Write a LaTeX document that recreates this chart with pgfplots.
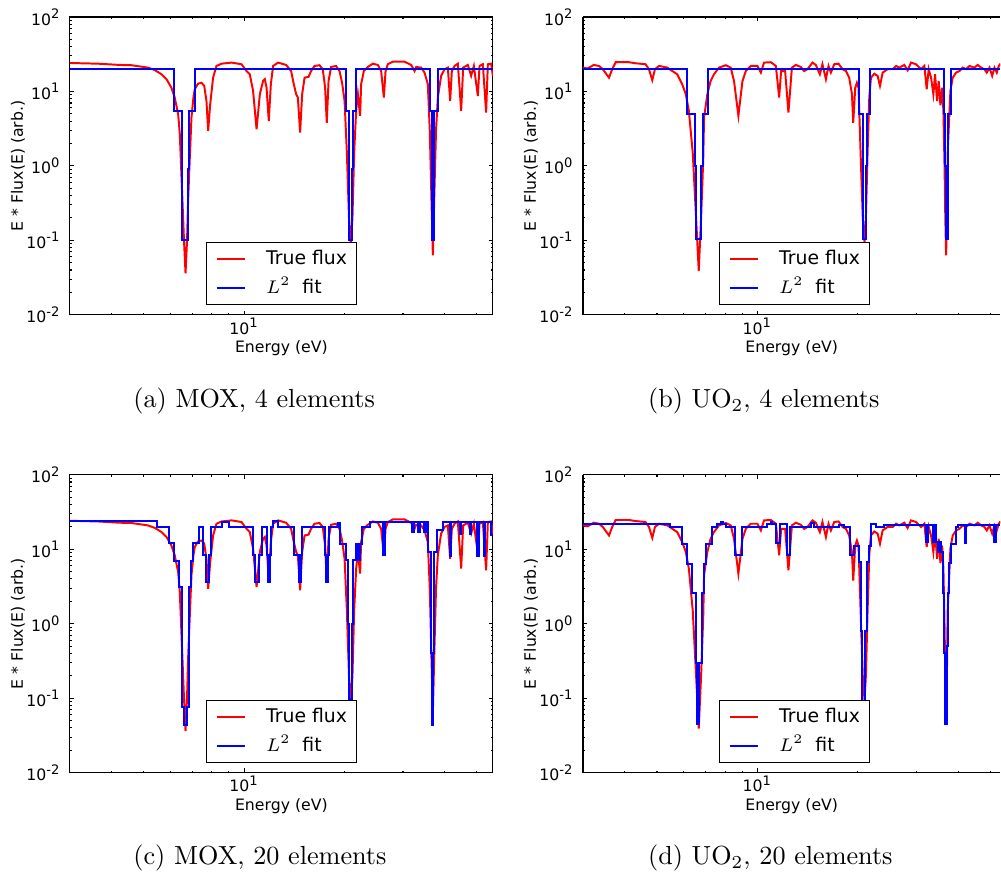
\documentclass[border=0pt]{standalone}
\usepackage{fontspec}
\usepackage{pgfplots}
\usepackage{pgfplotstable}
\pgfplotsset{compat=1.18}
\newfontfamily\dv{DejaVu Sans}

\pgfplotstableread[row sep=\\]{
E v\\
3.0 24.1\\ 3.64 23.6\\ 4.23 22.7\\ 4.59 22.5\\ 5.14 20.9\\ 5.39 19.4\\ 5.65 17.0\\ 5.85 14.6\\
6.05 11.2\\ 6.19 8.3\\ 6.34 4.9\\ 6.41 2.7\\ 6.53 0.34\\ 6.60 0.1\\ 6.67 0.036\\ 6.74 0.1\\
6.79 0.34\\ 6.88 1.5\\ 6.95 4.5\\ 7.05 8.5\\ 7.11 10.7\\ 7.27 12.7\\ 7.45 13.1\\ 7.59 11.9\\
7.71 7.45\\ 7.80 2.95\\ 7.91 6.7\\ 8.07 15.3\\ 8.26 22.0\\ 8.56 23.6\\ 9.17 24.4\\ 9.82 23.2\\
10.17 18.8\\ 10.40 17.0\\ 10.64 10.2\\ 10.90 3.1\\ 11.15 9.2\\ 11.40 13.8\\ 11.54 14.6\\ 11.68 11.2\\
11.86 4.0\\ 12.03 12.5\\ 12.22 22.0\\ 12.65 24.4\\ 13.37 22.7\\ 13.84 18.8\\ 14.10 12.5\\ 14.33 9.2\\
14.50 8.3\\ 14.73 2.8\\ 14.94 9.2\\ 15.19 15.3\\ 15.61 15.7\\ 15.89 18.8\\ 16.27 22.0\\ 16.84 22.5\\
17.23 19.9\\ 17.51 11.2\\ 17.71 3.8\\ 17.93 13.8\\ 18.25 21.3\\ 18.89 22.0\\ 19.34 18.8\\ 19.69 13.1\\
20.03 7.45\\ 20.35 1.5\\ 20.65 0.2\\ 20.92 0.09\\ 21.15 0.2\\ 21.40 1.5\\ 21.70 5.5\\ 21.96 9.2\\
22.30 4.7\\ 22.46 12.5\\ 22.88 18.8\\ 23.52 21.3\\ 24.35 23.6\\ 25.21 22.7\\ 25.79 18.8\\ 26.28 8.3\\
26.59 18.8\\ 27.01 23.2\\ 27.96 25.1\\ 30.32 25.1\\ 31.73 22.7\\ 32.49 18.8\\ 32.85 21.3\\ 34.01 20.9\\
34.82 17.9\\ 35.62 12.5\\ 36.10 3.0\\ 36.50 0.4\\ 36.88 0.063\\ 37.25 0.4\\ 37.70 3.0\\ 38.17 8.3\\
39.05 16.2\\ 39.98 19.9\\ 40.90 20.9\\ 41.56 7.45\\ 42.05 18.8\\ 42.84 22.0\\ 43.83 23.6\\ 44.85 5.5\\
45.47 20.9\\ 46.97 22.7\\ 48.05 16.2\\ 48.96 22.0\\ 50.33 8.7\\ 50.92 22.0\\ 52.10 23.2\\ 53.30 5.2\\
53.93 23.2\\ 55.18 23.6\\ 55.84 16.2\\
}\moxred

\pgfplotstableread[row sep=\\]{
E v\\
3.0 20.9\\ 3.1 20.3\\ 3.23 22.7\\ 3.35 22.0\\ 3.44 19.9\\ 3.59 15.3\\ 3.67 19.9\\ 3.76 24.7\\
4.12 24.7\\ 4.31 23.9\\ 4.62 23.2\\ 4.73 19.9\\ 4.84 14.2\\ 4.93 19.9\\ 5.07 22.0\\ 5.37 20.9\\
5.56 18.8\\ 5.75 17.0\\ 5.95 12.5\\ 6.10 9.2\\ 6.23 5.5\\ 6.40 1.5\\ 6.55 0.2\\ 6.67 0.039\\
6.78 0.2\\ 6.88 1.2\\ 6.92 4.5\\ 7.08 9.2\\ 7.24 13.8\\ 7.41 17.0\\ 7.67 20.9\\ 8.04 22.5\\
8.32 20.9\\ 8.51 13.8\\ 8.77 4.7\\ 9.02 13.8\\ 9.23 18.8\\ 9.55 22.0\\ 10.0 22.0\\ 10.24 17.9\\
10.47 24.4\\ 10.97 24.7\\ 11.36 22.0\\ 11.62 8.3\\ 11.78 18.8\\ 12.11 18.8\\ 12.39 5.2\\ 12.69 20.9\\
13.04 22.7\\ 13.50 21.3\\ 13.81 18.8\\ 14.13 19.9\\ 14.63 24.4\\ 14.97 22.7\\ 15.39 17.0\\ 15.67 23.2\\
16.05 14.6\\ 16.34 22.0\\ 16.61 17.9\\ 17.00 23.2\\ 17.51 23.6\\ 18.00 19.9\\ 18.43 18.8\\ 18.85 15.3\\
19.21 9.2\\ 19.38 3.8\\ 19.65 11.2\\ 19.88 13.1\\ 20.10 11.2\\ 20.45 1.0\\ 20.70 0.2\\ 20.95 0.094\\
21.15 0.2\\ 21.40 1.5\\ 21.65 8.3\\ 21.90 15.3\\ 22.41 17.3\\ 22.93 16.2\\ 23.31 11.9\\ 23.74 17.9\\
24.57 19.9\\ 25.44 19.9\\ 26.04 22.0\\ 26.65 20.9\\ 27.58 22.7\\ 28.21 19.2\\ 28.88 24.4\\ 29.90 23.2\\
30.96 19.9\\ 31.67 22.0\\ 32.18 10.7\\ 32.63 19.9\\ 33.17 15.3\\ 33.70 9.2\\ 34.10 17.0\\ 34.58 7.45\\
34.96 13.8\\ 35.38 6.5\\ 35.80 11.2\\ 36.12 5.5\\ 36.40 1.0\\ 36.60 0.2\\ 36.80 0.063\\ 37.00 0.2\\
37.20 1.5\\ 37.91 10.2\\ 38.52 15.3\\ 39.42 17.9\\ 40.34 18.8\\ 41.27 20.9\\ 42.25 19.9\\ 43.23 22.0\\
44.75 20.9\\ 45.78 22.7\\ 46.87 20.9\\ 47.95 19.9\\ 48.72 17.9\\ 49.64 20.9\\ 50.57 16.2\\ 51.38 20.9\\
52.21 17.9\\ 52.94 22.0\\ 53.56 23.6\\
}\uored

\pgfplotstableread[row sep=\\]{
E v\\
3 20.2\\ 6.16 20.2\\ 6.16 5.47\\ 6.49 5.47\\ 6.49 0.92\\ 6.53 0.92\\ 6.53 0.1\\ 6.79 0.1\\
6.79 0.92\\ 6.83 0.92\\ 6.83 5.47\\ 7.11 5.47\\ 7.11 20.2\\ 20.2 20.2\\ 20.2 5.47\\ 20.62 5.47\\
20.62 0.92\\ 20.66 0.92\\ 20.66 0.1\\ 21.15 0.1\\ 21.15 0.92\\ 21.2 0.92\\ 21.2 5.47\\ 21.7 5.47\\
21.7 20.2\\ 36.2 20.2\\ 36.2 5.47\\ 36.62 5.47\\ 36.62 0.92\\ 36.66 0.92\\ 36.66 0.1\\ 37.2 0.1\\
37.2 0.92\\ 37.25 0.92\\ 37.25 5.47\\ 38.1 5.47\\ 38.1 20.2\\ 55.8 20.2\\
}\fitA

\pgfplotstableread[row sep=\\]{
E v\\
3 19.9\\ 6.16 19.9\\ 6.16 5.0\\ 6.49 5.0\\ 6.49 1.0\\ 6.56 1.0\\ 6.56 0.105\\ 6.78 0.105\\
6.78 1.0\\ 6.85 1.0\\ 6.85 5.0\\ 7.11 5.0\\ 7.11 19.9\\ 20.21 19.9\\ 20.21 5.0\\ 20.67 5.0\\
20.67 1.0\\ 20.77 1.0\\ 20.77 0.105\\ 21.16 0.105\\ 21.16 1.0\\ 21.31 1.0\\ 21.31 5.0\\ 21.76 5.0\\
21.76 19.9\\ 36.37 19.9\\ 36.37 5.0\\ 36.62 5.0\\ 36.62 1.0\\ 36.66 1.0\\ 36.66 0.105\\ 37.21 0.105\\
37.21 1.0\\ 37.39 1.0\\ 37.39 5.0\\ 38.08 5.0\\ 38.08 19.9\\ 53.56 19.9\\
}\fitB

\pgfplotstableread[row sep=\\]{
E v\\
3 24.1\\ 5.46 24.1\\ 5.46 19.8\\ 5.95 19.8\\ 5.95 12.0\\ 6.15 12.0\\ 6.15 7.0\\ 6.37 7.0\\
6.37 3.1\\ 6.51 3.1\\ 6.51 0.075\\ 6.6 0.075\\ 6.6 0.044\\ 6.72 0.044\\ 6.72 0.075\\ 6.83 0.075\\
6.83 3.1\\ 6.92 3.1\\ 6.92 7.0\\ 7.04 7.0\\ 7.04 12.0\\ 7.33 12.0\\ 7.33 19.8\\ 7.53 19.8\\
7.53 8.3\\ 7.71 8.3\\ 7.71 3.6\\ 7.85 3.6\\ 7.85 8.3\\ 7.98 8.3\\ 7.98 19.8\\ 8.56 19.8\\
8.56 23.2\\ 8.99 23.2\\ 8.99 19.8\\ 10.64 19.8\\ 10.64 8.3\\ 10.77 8.3\\ 10.77 3.6\\ 11.07 3.6\\
11.07 8.3\\ 11.32 8.3\\ 11.32 19.8\\ 11.68 19.8\\ 11.68 8.3\\ 11.81 8.3\\ 11.81 3.6\\ 11.94 3.6\\
11.94 8.3\\ 12.03 8.3\\ 12.03 19.8\\ 12.22 19.8\\ 12.22 24.1\\ 12.65 24.1\\ 12.65 19.8\\ 14.10 19.8\\
14.10 8.3\\ 14.57 8.3\\ 14.57 3.6\\ 14.77 3.6\\ 14.77 8.3\\ 14.91 8.3\\ 14.91 19.8\\ 17.44 19.8\\
17.44 8.3\\ 17.63 8.3\\ 17.63 3.6\\ 17.84 3.6\\ 17.84 8.3\\ 18.0 8.3\\ 18.0 19.8\\ 19.11 19.8\\
19.11 22.7\\ 19.47 22.7\\ 19.47 11.9\\ 20.25 11.9\\ 20.25 7.1\\ 20.49 7.1\\ 20.49 1.0\\ 20.7 1.0\\
20.7 0.098\\ 21.1 0.098\\ 21.1 1.0\\ 21.3 1.0\\ 21.3 7.1\\ 21.61 7.1\\ 21.61 11.9\\ 21.96 11.9\\
21.96 7.1\\ 22.21 7.1\\ 22.21 11.9\\ 22.57 11.9\\ 22.57 19.8\\ 23.80 19.8\\ 23.80 23.2\\ 26.1 23.2\\
26.1 8.3\\ 26.51 8.3\\ 26.51 23.2\\ 31.88 23.2\\ 31.88 17.0\\ 32.32 17.0\\ 32.32 23.2\\ 33.24 23.2\\
33.24 17.0\\ 33.63 17.0\\ 33.63 23.2\\ 34.65 23.2\\ 34.65 17.0\\ 35.2 17.0\\ 35.2 23.2\\ 35.62 23.2\\
35.62 9.2\\ 36.37 9.2\\ 36.37 0.4\\ 36.6 0.4\\ 36.6 0.044\\ 36.95 0.044\\ 36.95 0.4\\ 37.1 0.4\\
37.1 9.2\\ 37.99 9.2\\ 37.99 17.9\\ 39.51 17.9\\ 39.51 23.2\\ 41.39 23.2\\ 41.39 8.0\\ 41.85 8.0\\
41.85 23.2\\ 44.42 23.2\\ 44.42 16.0\\ 44.85 16.0\\ 44.85 23.2\\ 47.52 23.2\\ 47.52 16.2\\ 48.05 16.2\\
48.05 23.2\\ 50.09 23.2\\ 50.09 8.0\\ 50.57 8.0\\ 50.57 23.2\\ 52.5 23.2\\ 52.5 8.0\\ 52.95 8.0\\
52.95 23.2\\ 55.18 23.2\\ 55.18 15.3\\ 55.8 15.3\\
}\fitC

\pgfplotstableread[row sep=\\]{
E v\\
3 22.0\\ 5.46 22.0\\ 5.46 19.9\\ 5.95 19.9\\ 5.95 11.8\\ 6.16 11.8\\ 6.16 6.3\\ 6.38 6.3\\
6.38 2.6\\ 6.53 2.6\\ 6.53 0.3\\ 6.58 0.3\\ 6.58 0.045\\ 6.70 0.045\\ 6.70 0.3\\ 6.80 0.3\\
6.80 2.6\\ 6.90 2.6\\ 6.90 6.3\\ 7.00 6.3\\ 7.00 11.8\\ 7.33 11.8\\ 7.33 19.9\\ 7.59 19.9\\
7.59 22.0\\ 7.76 22.0\\ 7.76 23.2\\ 7.90 23.2\\ 7.90 22.0\\ 8.04 22.0\\ 8.04 19.9\\ 8.57 19.9\\
8.57 8.3\\ 9.02 8.3\\ 9.02 19.9\\ 10.72 19.9\\ 10.72 22.0\\ 10.95 22.0\\ 10.95 23.2\\ 11.10 23.2\\
11.10 22.0\\ 11.40 22.0\\ 11.40 12.0\\ 11.70 12.0\\ 11.70 22.0\\ 12.30 22.0\\ 12.30 8.3\\ 12.55 8.3\\
12.55 19.9\\ 14.47 19.9\\ 14.47 22.7\\ 14.80 22.7\\ 14.80 19.9\\ 17.60 19.9\\ 17.60 20.9\\ 18.20 20.9\\
18.20 19.9\\ 18.95 19.9\\ 18.95 8.3\\ 19.51 8.3\\ 19.51 11.2\\ 20.21 11.2\\ 20.21 6.7\\ 20.45 6.7\\
20.45 0.8\\ 20.60 0.8\\ 20.60 0.093\\ 21.05 0.093\\ 21.05 0.8\\ 21.25 0.8\\ 21.25 6.7\\ 21.54 6.7\\
21.54 11.2\\ 21.90 11.2\\ 21.90 22.0\\ 22.67 22.0\\ 22.67 19.9\\ 24.02 19.9\\ 24.02 21.3\\ 32.04 21.3\\
32.04 12.5\\ 32.40 12.5\\ 32.40 21.3\\ 33.54 21.3\\ 33.54 12.5\\ 34.00 12.5\\ 34.00 21.3\\ 34.30 21.3\\
34.30 12.5\\ 34.72 12.5\\ 34.72 9.2\\ 35.13 9.2\\ 35.13 12.5\\ 35.50 12.5\\ 35.50 9.2\\ 35.95 9.2\\
35.95 2.6\\ 36.37 2.6\\ 36.37 0.4\\ 36.60 0.4\\ 36.60 0.045\\ 36.95 0.045\\ 36.95 0.5\\ 37.25 0.5\\
37.25 2.6\\ 37.60 2.6\\ 37.60 6.5\\ 38.08 6.5\\ 38.08 11.8\\ 39.42 11.8\\ 39.42 19.9\\ 39.90 19.9\\
39.90 21.3\\ 41.96 21.3\\ 41.96 12.0\\ 42.25 12.0\\ 42.25 21.3\\ 51.38 21.3\\ 51.38 12.5\\ 51.99 12.5\\
51.99 21.3\\ 53.56 21.3\\
}\fitD

\pgfplotsset{
  every axis/.append style={
    scale only axis, height=113.84pt,
    ymin=0.01, ymax=100, xmin=3,
    xtick={10}, xticklabels={10\textsuperscript{1}},
    minor xtick={3,4,5,6,7,8,9,20,30,40,50},
    ytick={0.01,0.1,1,10,100},
    yticklabels={10\textsuperscript{-2},10\textsuperscript{-1},10\textsuperscript{0},10\textsuperscript{1},10\textsuperscript{2}},
    minor ytick={0.02,0.03,0.04,0.05,0.06,0.07,0.08,0.09,0.2,0.3,0.4,0.5,0.6,0.7,0.8,0.9,2,3,4,5,6,7,8,9,20,30,40,50,60,70,80,90},
    tick align=inside,
    major tick length=1.6pt, minor tick length=0.8pt,
    every tick/.style={black, line width=0.4pt},
    axis line style={black, line width=0.4pt},
    tick label style={font=\dv\fontsize{6}{7}\selectfont},
    xticklabel style={yshift=2.3pt},
    label style={font=\dv\fontsize{6}{7}\selectfont},
    xlabel={Energy (eV)}, ylabel={E * Flux(E) (arb.)},
    xlabel style={at={(axis description cs:0.5,-0.113)}, anchor=center},
    legend style={draw=black, line width=0.4pt, fill=white,
      inner xsep=3.5pt, inner ysep=3.05pt,
      nodes={inner sep=0pt, text height=5.5pt, text depth=1pt},
      row sep=4.6pt, column sep=7.6pt,
      font=\dv\fontsize{7.2}{8.6}\selectfont},
    legend cell align=left,
    legend image code/.code={\draw[##1] (0pt,0pt) -- (10.9pt,0pt);},
  },
}

\begin{document}
\begin{tikzpicture}
\path (0pt,0pt) rectangle (382.38pt,-334.25pt);

\begin{axis}[xmode=log, ymode=log, width=161.59pt, xmax=55.8, tick pos=both,
  at={(26.74pt,-6.11pt)}, anchor=north west,
  ylabel style={at={(axis description cs:-0.123,0.5)}, anchor=center},
  legend style={at={(0.5,0.0336)}, anchor=south}]
\addplot[red, line width=0.75pt] table[x=E,y=v] {\moxred};
\addplot[blue, line width=0.75pt] table[x=E,y=v] {\fitA};
\legend{True flux, $L^2$\hspace{4.5pt}fit}
\end{axis}

\begin{axis}[xmode=log, ymode=log, width=159.56pt, xmax=53.56,
  separate axis lines, axis x line*=box, axis y line*=left,
  at={(222.82pt,-6.11pt)}, anchor=north west,
  ylabel style={at={(axis description cs:-0.1247,0.5)}, anchor=center},
  legend style={at={(0.5063,0.0336)}, anchor=south}]
\addplot[red, line width=0.75pt] table[x=E,y=v] {\uored};
\addplot[blue, line width=0.75pt] table[x=E,y=v] {\fitB};
\legend{True flux, $L^2$\hspace{4.5pt}fit}
\end{axis}

\begin{axis}[xmode=log, ymode=log, width=161.59pt, xmax=55.8, tick pos=both,
  at={(26.74pt,-181.07pt)}, anchor=north west,
  ylabel style={at={(axis description cs:-0.123,0.5)}, anchor=center},
  legend style={at={(0.5,0.0336)}, anchor=south}]
\addplot[red, line width=0.75pt] table[x=E,y=v] {\moxred};
\addplot[blue, line width=0.75pt] table[x=E,y=v] {\fitC};
\legend{True flux, $L^2$\hspace{4.5pt}fit}
\end{axis}

\begin{axis}[xmode=log, ymode=log, width=159.56pt, xmax=53.56,
  separate axis lines, axis x line*=box, axis y line*=left,
  at={(222.82pt,-181.07pt)}, anchor=north west,
  ylabel style={at={(axis description cs:-0.1247,0.5)}, anchor=center},
  legend style={at={(0.5063,0.0336)}, anchor=south}]
\addplot[red, line width=0.75pt] table[x=E,y=v] {\uored};
\addplot[blue, line width=0.75pt] table[x=E,y=v] {\fitD};
\legend{True flux, $L^2$\hspace{4.5pt}fit}
\end{axis}

\node[anchor=base west, inner sep=0pt, font=\fontsize{10}{12}\selectfont] at (50.8pt,-155.5pt) {(a) MOX, 4 elements};
\node[anchor=base west, inner sep=0pt, font=\fontsize{10}{12}\selectfont] at (247.5pt,-155.5pt) {(b) UO$_2$, 4 elements};
\node[anchor=base west, inner sep=0pt, font=\fontsize{10}{12}\selectfont] at (50.8pt,-330.0pt) {(c) MOX, 20 elements};
\node[anchor=base west, inner sep=0pt, font=\fontsize{10}{12}\selectfont] at (247.5pt,-330.0pt) {(d) UO$_2$, 20 elements};
\end{tikzpicture}
\end{document}
